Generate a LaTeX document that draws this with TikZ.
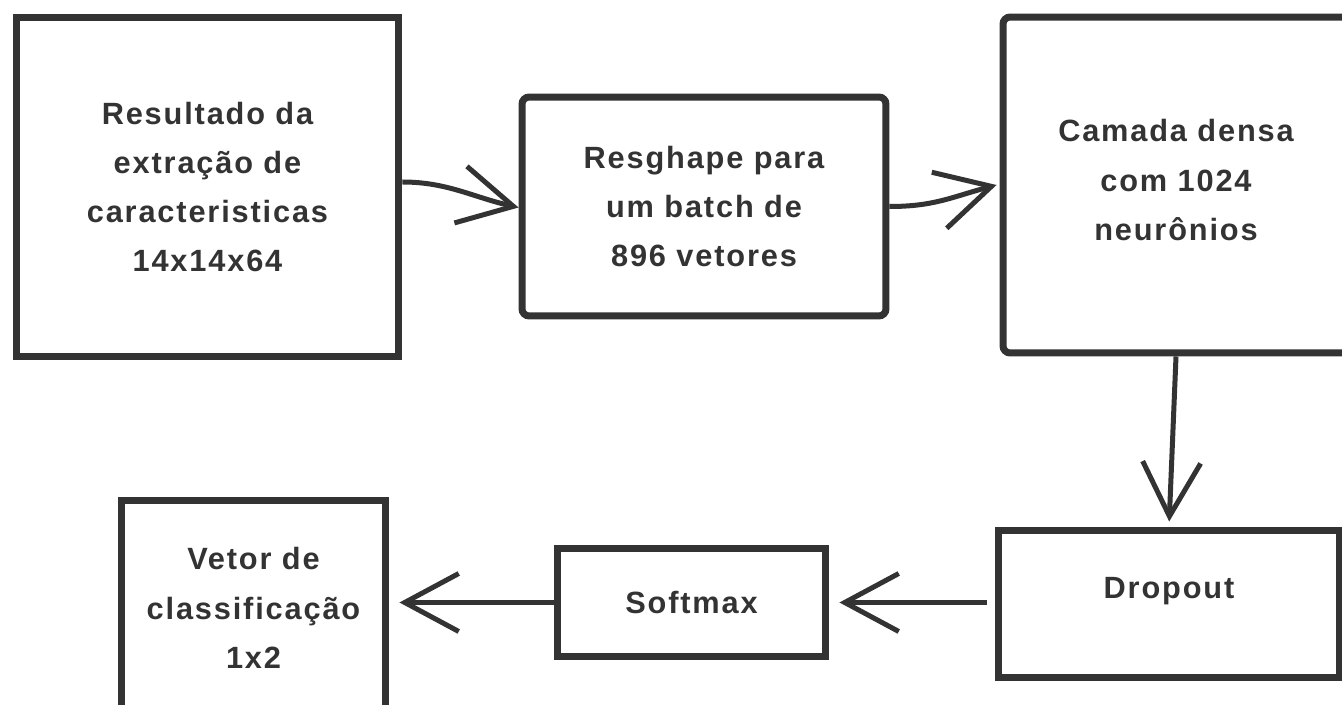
\documentclass[tikz,border=0pt]{standalone}
\usepackage{fontspec}
\setmainfont{Liberation Sans}[LetterSpace=6]
\usetikzlibrary{arrows.meta}
\usetikzlibrary{positioning}
\definecolor{ink}{HTML}{333333}

\begin{document}
\begin{tikzpicture}[x=0.02cm,y=-0.02cm,
    blockbox/.style={draw=ink, line width=0.14cm, text=ink, align=center,
      inner sep=0pt, font=\bfseries\fontsize{17.5}{28}\selectfont},
    flowarrow/.style={draw=ink, line width=0.1cm,
      -{Straight Barb[length=1.08cm,width=1.16cm]}}
    ]
\useasboundingbox (0,0) rectangle (1342,705);

% blocos de cima
\node [blockbox, minimum width=7.66cm, minimum height=6.78cm] (res) at (207.5,187)
  {Resultado da\\extração de\\caracteristicas\\14x14x64};
\node [blockbox, rounded corners=4pt, minimum width=7.28cm, minimum height=4.38cm] (reshape) at (704,206.5)
  {Resghape para\\um batch de\\896 vetores};
\node [blockbox, rounded corners=4pt, minimum width=6.92cm, minimum height=6.72cm, text depth=0.2cm] (dense) at (1176,185)
  {Camada densa\\com 1024\\neurônios};

% blocos de baixo
\node [blockbox, minimum width=6.84cm, minimum height=2.96cm, text depth=0.65cm] (drop) at (1169,604) {Dropout};
\node [blockbox, minimum width=5.38cm, minimum height=2.18cm] (soft) at (691.5,602.5) {Softmax};
\node [blockbox, minimum width=5.3cm, minimum height=4.32cm] (vetor) at (253.5,608)
  {Vetor de\\classificação\\1x2};

% setas
\draw [flowarrow] ([yshift=0.1cm]res.east) .. controls +(45,0) and +(-45,-10) .. ([yshift=-0.02cm]reshape.west);
\draw [flowarrow] (reshape.east) .. controls +(45,0) and +(-45,12) .. ([xshift=-0.06cm]dense.west);
\draw [flowarrow, shorten >=0.1cm] (dense.south) -- (drop.north);
\draw [flowarrow, shorten <=0.15cm, shorten >=0.2cm] (drop.west |- soft.east) -- (soft.east);
\draw [flowarrow, shorten >=0.2cm] (soft.west) -- (vetor.east |- soft.west);
\end{tikzpicture}
\end{document}
